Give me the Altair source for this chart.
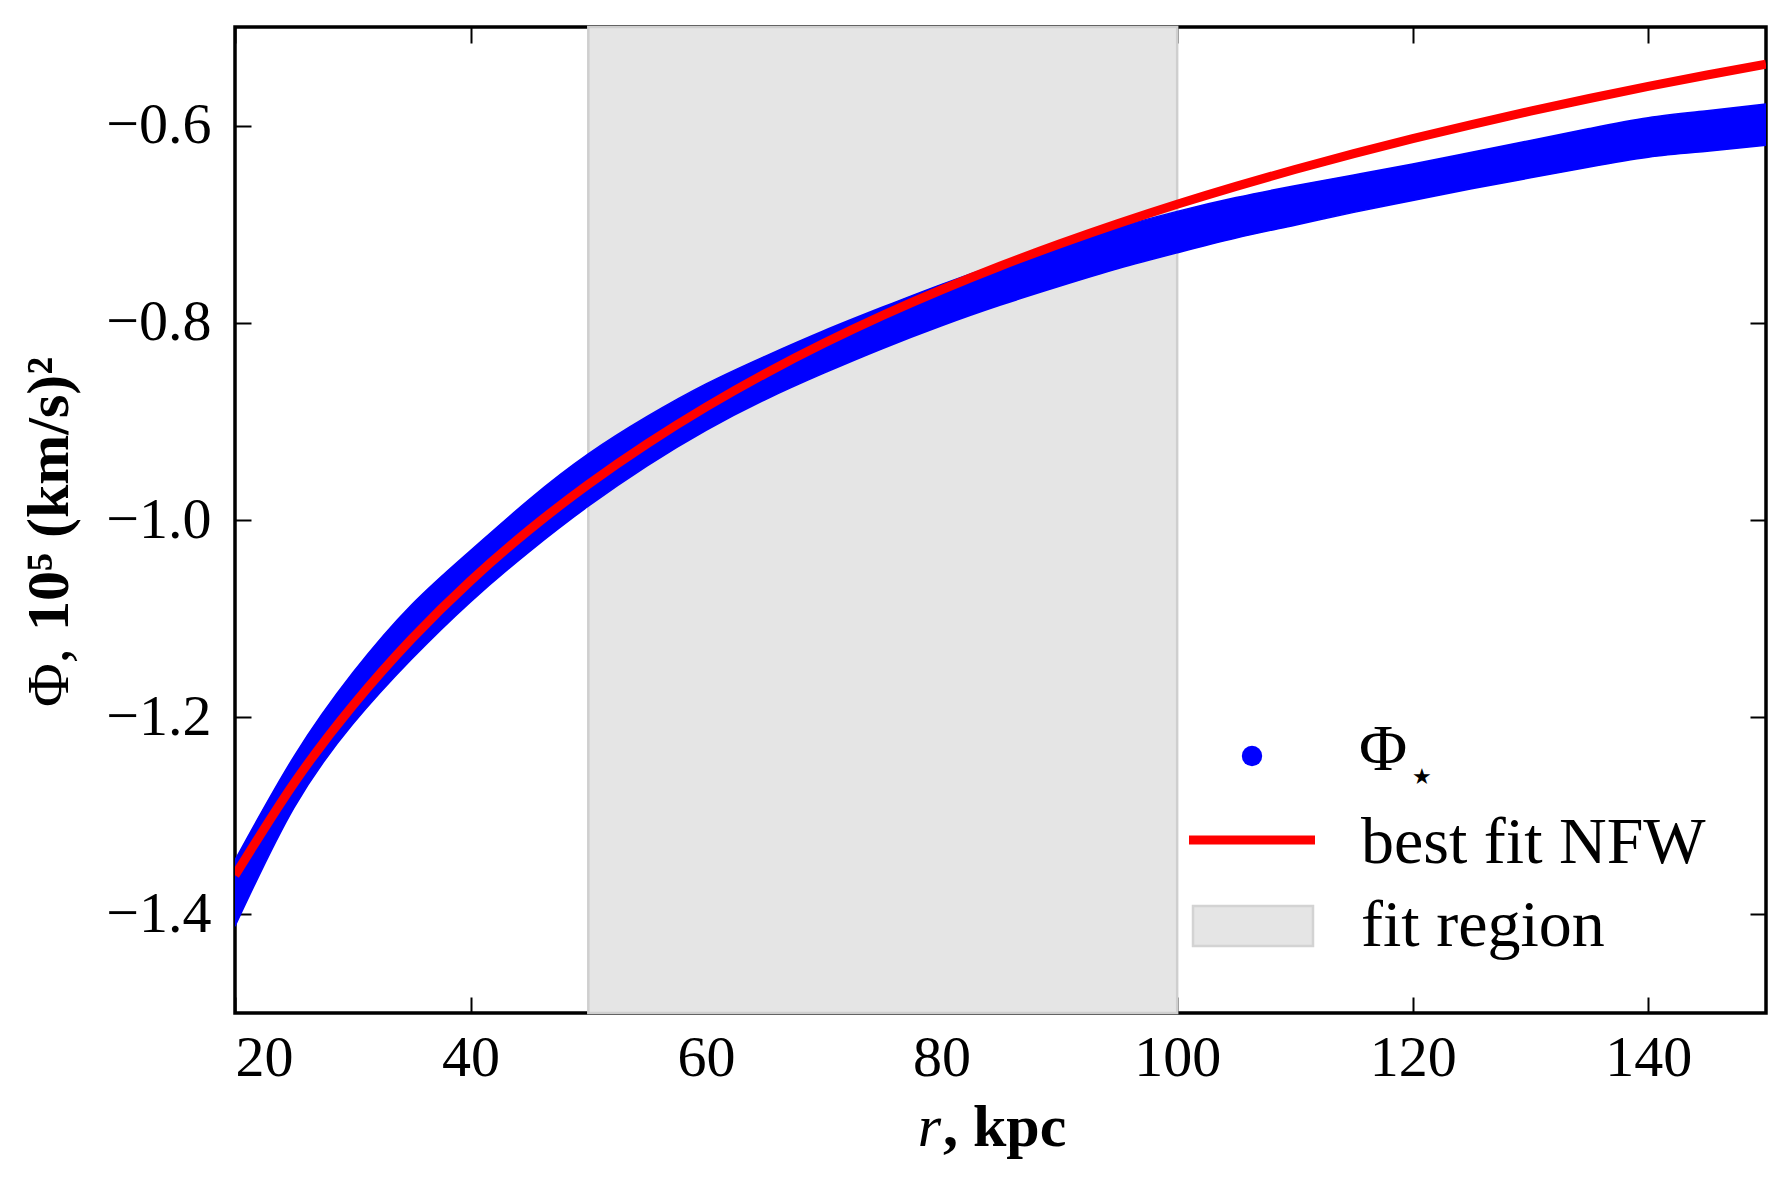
import altair as alt
import pandas as pd

# ---- data ----
r_vals = [20, 25, 30, 35, 40, 45, 50, 55, 60, 65, 70, 75, 80, 85, 90, 95,
          100, 105, 110, 115, 120, 125, 130, 135, 140, 145, 150]
nfw_fit = [-1.3604, -1.2671, -1.1882, -1.1206, -1.0617, -1.0099, -0.9638, -0.9226,
           -0.8854, -0.8516, -0.8208, -0.7925, -0.7665, -0.7424, -0.7201, -0.6993,
           -0.6798, -0.6616, -0.6445, -0.6284, -0.6133, -0.5989, -0.5854, -0.5725,
           -0.5603, -0.5487, -0.5376]
stars_upper = [-1.345, -1.240, -1.155, -1.086, -1.031, -0.979, -0.933, -0.895,
               -0.862, -0.834, -0.808, -0.784, -0.761, -0.740, -0.721, -0.703,
               -0.687, -0.673, -0.661, -0.650, -0.639, -0.627, -0.615, -0.603,
               -0.592, -0.585, -0.578]
stars_lower = [-1.412, -1.292, -1.207, -1.141, -1.083, -1.032, -0.986, -0.945,
               -0.909, -0.878, -0.851, -0.826, -0.803, -0.782, -0.763, -0.745,
               -0.729, -0.714, -0.701, -0.688, -0.676, -0.664, -0.653, -0.642,
               -0.632, -0.626, -0.620]
fit_region = [50, 100]
x_ticks = [20, 40, 60, 80, 100, 120, 140]
y_ticks = [-1.4, -1.2, -1.0, -0.8, -0.6]
legend_labels = ["\u03a6", "best fit NFW", "fit region"]
legend_sub = "\u2605"
x_title = ["r", ", kpc"]
y_title = ["\u03a6,", "10\u2075 (km/s)\u00b2"]

W, H = 1531, 986
FONT = "Liberation Serif"
BLUE = "#0000ff"
RED = "#ff0000"
GRAY = "#e5e5e5"
GRAY_EDGE = "#cfcfcf"

curve = pd.DataFrame({"r": r_vals, "phi": nfw_fit,
                      "upper": stars_upper, "lower": stars_lower})
region = pd.DataFrame({"r0": [fit_region[0]], "r1": [fit_region[1]]})

xscale = alt.Scale(domain=[20, 150], nice=False, zero=False)
yscale = alt.Scale(domain=[-1.5, -0.5], nice=False, zero=False)

TICK = 16
common = dict(domain=False, grid=False, ticks=True, tickSize=TICK, offset=-TICK,
              tickColor="black", tickWidth=2, labelFont=FONT, labelFontSize=58,
              labelColor="black", title=None)

x_bottom = alt.Axis(orient="bottom", values=x_ticks, format="d", labelPadding=16, **common)
y_left = alt.Axis(orient="left", values=y_ticks, format=".1f", labelPadding=24, **common)
x_top = alt.Axis(orient="top", values=x_ticks, labels=False, **common)
y_right = alt.Axis(orient="right", values=y_ticks, labels=False, **common)

band = alt.Chart(region).mark_rect(fill=GRAY, stroke=GRAY_EDGE, strokeWidth=2.5).encode(
    x=alt.X("r0:Q", scale=xscale, axis=x_bottom),
    x2="r1:Q",
    y=alt.value(0),
    y2=alt.value(H),
)

stars = alt.Chart(curve).mark_area(color=BLUE, interpolate="natural", clip=True,
                                   stroke=BLUE, strokeWidth=1.5).encode(
    x=alt.X("r:Q", scale=xscale, axis=None),
    y=alt.Y("upper:Q", scale=yscale, axis=y_left),
    y2="lower:Q",
)

fit = alt.Chart(curve).mark_line(color=RED, strokeWidth=9, interpolate="natural", clip=True).encode(
    x=alt.X("r:Q", scale=xscale, axis=x_top),
    y=alt.Y("phi:Q", scale=yscale, axis=y_right),
)


def text_layer(t, x, y, size, weight="normal", style="normal", angle=0, align="left", font=FONT):
    return alt.Chart(pd.DataFrame({"t": [t]})).mark_text(
        font=font, fontSize=size, fontWeight=weight, fontStyle=style, angle=angle,
        align=align, baseline="alphabetic", color="black").encode(
        x=alt.value(x), y=alt.value(y), text="t:N")


one = pd.DataFrame({"k": [0]})
leg_dot = alt.Chart(one).mark_circle(color=BLUE, opacity=1, size=415).encode(
    x=alt.value(1017), y=alt.value(729))
leg_line = alt.Chart(one).mark_rule(color=RED, strokeWidth=9).encode(
    x=alt.value(954), x2=alt.value(1080), y=alt.value(813))
leg_patch = alt.Chart(one).mark_rect(fill=GRAY, stroke="#d3d3d3", strokeWidth=2.5).encode(
    x=alt.value(958), x2=alt.value(1078), y=alt.value(879), y2=alt.value(919))

layers = [
    band, stars, fit,
    leg_dot, leg_line, leg_patch,
    text_layer(legend_labels[0], 1124, 743, 66),
    text_layer(legend_sub, 1177, 757, 22, font="DejaVu Sans"),
    text_layer(legend_labels[1], 1126, 836, 66),
    text_layer(legend_labels[2], 1126, 919, 66),
    text_layer(x_title[0], 706, 1119, 60, style="italic", align="right"),
    text_layer(x_title[1], 708, 1119, 60, weight="bold"),
    text_layer(y_title[0], -167, 680, 60, angle=270),
    text_layer(y_title[1], -167, 604, 60, weight="bold", angle=270),
]

chart = alt.layer(*layers).resolve_axis(x="independent", y="independent").properties(
    width=W, height=H,
    autosize=alt.AutoSizeParams(type="none"),
    padding={"left": 227, "top": 19, "right": 8, "bottom": 160},
    background="white",
).configure_view(stroke="black", strokeWidth=3.5)

chart.save("out.html", embed_options={"renderer": "svg", "actions": False})
